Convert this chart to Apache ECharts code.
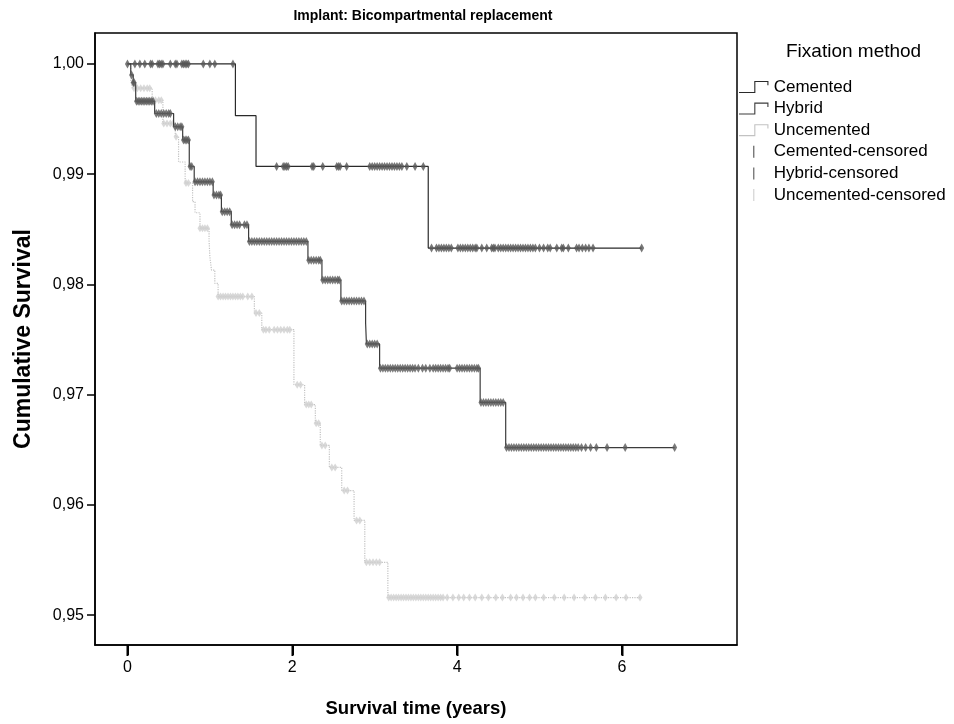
<!DOCTYPE html>
<html><head><meta charset="utf-8">
<script src="https://cdn.jsdelivr.net/npm/echarts@6/dist/echarts.min.js"></script>
<style>html,body{margin:0;padding:0;background:#fff}#c{width:954px;height:724px}</style>
</head><body><div id="c"></div>
<script>
// ---- data ----
const xTicks = [0, 2, 4, 6];
const yTicks = [0.95, 0.96, 0.97, 0.98, 0.99, 1.00];

const cementedSteps = [[0,1.0],[1.31,0.9953],[1.56,0.9907],[3.65,0.9833],[6.24,0.9833]];
const cementedCensor = [0.00,0.09,0.15,0.21,0.28,0.30,0.37,0.39,0.41,0.43,0.52,0.58,0.60,0.66,0.68,0.70,0.72,0.74,0.92,1.00,1.06,1.28,
  1.81,1.89,1.91,1.93,1.95,2.24,2.26,2.37,2.54,2.56,2.58,2.66,2.94,2.97,3.00,3.03,3.06,3.09,3.12,3.15,3.18,3.21,3.24,3.27,3.30,3.33,3.39,3.49,3.59,
  3.69,3.75,3.78,3.81,3.84,3.87,3.90,3.93,4.01,4.04,4.07,4.10,4.13,4.16,4.19,4.22,4.24,4.30,4.36,4.42,4.44,4.46,4.50,4.53,4.56,4.59,4.62,4.65,4.68,
  4.71,4.74,4.77,4.80,4.83,4.86,4.89,4.92,4.95,5.00,5.05,5.10,5.13,5.21,5.27,5.29,5.35,5.45,5.48,5.52,5.56,5.60,5.65,6.24];

const hybridSteps = [[0,1.0],[0.04,0.9990],[0.07,0.9983],[0.10,0.9966],[0.33,0.9955],[0.56,0.9943],[0.67,0.9931],[0.75,0.9907],[0.81,0.9893],
  [1.04,0.9881],[1.14,0.9866],[1.26,0.9854],[1.47,0.9839],[2.19,0.9822],[2.36,0.9804],[2.59,0.9785],[2.89,0.9765],[2.90,0.9746],[3.06,0.9724],
  [4.28,0.9693],[4.59,0.9652],[6.64,0.9652]];
const hybridCensor = [0.05,0.07,0.08,0.11,0.13,0.15,0.17,0.19,0.21,0.23,0.25,0.27,0.29,0.31,0.35,0.38,0.41,0.44,0.47,0.50,0.52,0.58,0.61,0.64,0.66,
  0.68,0.70,0.72,0.74,0.76,0.78,0.82,0.85,0.88,0.91,0.94,0.97,1.00,1.03,1.05,1.08,1.11,1.13,1.15,1.18,1.21,1.24,1.27,1.30,1.33,1.36,1.42,1.45,
  1.48,1.51,1.54,1.57,1.60,1.63,1.66,1.69,1.72,1.75,1.78,1.81,1.84,1.87,1.90,1.93,1.96,1.99,2.02,2.05,2.08,2.11,2.14,2.17,
  2.20,2.23,2.26,2.29,2.32,2.34,2.37,2.40,2.43,2.46,2.49,2.52,2.55,2.57,2.60,2.63,2.66,2.69,2.72,2.75,2.78,2.81,2.84,2.87,
  2.91,2.94,2.97,3.00,3.03,3.07,3.10,3.13,3.16,3.19,3.22,3.25,3.28,3.31,3.34,3.37,3.40,3.43,3.46,3.49,3.53,3.58,3.62,3.67,3.71,3.74,3.77,3.80,
  3.83,3.86,3.89,3.91,4.00,4.03,4.06,4.09,4.12,4.15,4.18,4.21,4.24,4.26,4.29,4.32,4.35,4.38,4.41,4.44,4.47,4.50,4.53,4.56,
  4.60,4.63,4.66,4.69,4.72,4.75,4.78,4.81,4.84,4.87,4.90,4.93,4.96,4.99,5.02,5.05,5.08,5.11,5.14,5.17,5.20,5.23,5.26,5.29,5.32,5.35,5.38,5.41,
  5.44,5.47,5.51,5.56,5.62,5.69,5.82,6.04,6.64];

const uncementedSteps = [[0,1.0],[0.04,0.9985],[0.06,0.9978],[0.30,0.9967],[0.43,0.9946],[0.58,0.9934],[0.62,0.9911],[0.70,0.9892],[0.79,0.9875],
  [0.82,0.9865],[0.88,0.9851],[0.99,0.9840],[1.00,0.9825],[1.02,0.9813],[1.06,0.9801],[1.10,0.9789],[1.54,0.9774],[1.63,0.9759],[2.02,0.9709],
  [2.15,0.9691],[2.28,0.9674],[2.34,0.9654],[2.45,0.9634],[2.60,0.9613],[2.75,0.9586],[2.88,0.9548],[3.16,0.9516],[6.22,0.9516]];
const uncementedCensor = [0.08,0.12,0.16,0.20,0.24,0.27,0.31,0.34,0.38,0.41,0.44,0.48,0.52,0.55,0.59,0.71,0.74,0.88,0.91,0.94,0.97,
  1.10,1.13,1.16,1.19,1.22,1.25,1.28,1.31,1.34,1.37,1.40,1.46,1.51,1.56,1.60,1.65,1.68,1.72,1.78,1.82,1.86,1.90,1.94,1.97,
  2.06,2.10,2.17,2.20,2.23,2.29,2.32,2.36,2.40,2.48,2.52,2.63,2.67,2.78,2.82,2.90,2.94,2.98,3.02,3.06,
  3.17,3.20,3.23,3.26,3.29,3.32,3.35,3.38,3.41,3.44,3.47,3.50,3.53,3.56,3.59,3.62,3.65,3.68,3.71,3.74,3.77,3.80,3.83,3.88,3.95,4.02,4.08,
  4.15,4.22,4.30,4.38,4.47,4.55,4.65,4.72,4.80,4.88,4.95,5.05,5.18,5.30,5.42,5.55,5.68,5.80,5.93,6.05,6.22];

// ---- helpers ----
function survAt(steps, t) {
  let s = steps[0][1];
  for (const p of steps) { if (p[0] <= t + 1e-9) s = p[1]; }
  return s;
}
function censorPts(steps, times) { return times.map(t => [t, survAt(steps, t)]); }

const FONT = '"Liberation Sans", Arial, sans-serif';
const cDark = '#2a2a2a', cMid = '#3c3c3c', cLight = '#c2c2c2';
const stepIcon = 'path://M0,10 L14,10 L14,0 L27,0 L27,4 L26,4 L26,1 L15,1 L15,11 L0,11 Z';
const barIcon = 'path://M0,0 L1.4,0 L1.4,12 L0,12 Z';

const box = {left: 95, top: 33, width: 642, height: 612};
const xMin = -0.394, xMax = 7.397;

const chart = echarts.init(document.getElementById('c'), null, {renderer: 'canvas'});
chart.setOption({
  backgroundColor: '#fff',
  animation: false,
  title: [
    {text: 'Implant: Bicompartmental replacement', left: 418, top: 4, textAlign: 'center',
     textStyle: {fontFamily: FONT, fontSize: 14, fontWeight: 'bold', color: '#000'}},
    {text: 'Fixation method', left: 781, top: 37,
     textStyle: {fontFamily: FONT, fontSize: 19, fontWeight: 'normal', color: '#000'}}
  ],
  legend: {
    orient: 'vertical', left: 734, top: 73, itemWidth: 30, itemHeight: 12, itemGap: 3.6,
    textStyle: {fontFamily: FONT, fontSize: 17, color: '#000', lineHeight: 18},
    data: [
      {name: 'Cemented', icon: stepIcon},
      {name: 'Hybrid', icon: stepIcon},
      {name: 'Uncemented', icon: stepIcon},
      {name: 'Cemented-censored', icon: barIcon},
      {name: 'Hybrid-censored', icon: barIcon},
      {name: 'Uncemented-censored', icon: barIcon}
    ]
  },
  grid: Object.assign({outerBoundsMode: 'none', containLabel: false, show: true, borderColor: '#000', borderWidth: 1.5, backgroundColor: '#fff'}, box),
  xAxis: {
    type: 'value', min: xMin, max: xMax,
    name: 'Survival time (years)', nameLocation: 'middle', nameGap: 54,
    nameTextStyle: {fontFamily: FONT, fontSize: 18.5, fontWeight: 'bold', color: '#000'},
    axisLine: {show: true, onZero: false, lineStyle: {color: '#000', width: 1.5}},
    axisTick: {show: true, customValues: xTicks, length: 10, lineStyle: {color: '#000', width: 2}},
    axisLabel: {customValues: xTicks, fontFamily: FONT, fontSize: 16, color: '#000', margin: 15},
    splitLine: {show: false}
  },
  yAxis: {
    type: 'value', min: 0.9473, max: 1.0028,
    name: 'Cumulative Survival', nameLocation: 'middle', nameGap: 60, nameRotate: 90,
    nameTextStyle: {fontFamily: FONT, fontSize: 23, fontWeight: 'bold', color: '#000'},
    axisLine: {show: true, onZero: false, lineStyle: {color: '#000', width: 1.5}},
    axisTick: {show: true, customValues: yTicks, length: 8, lineStyle: {color: '#000', width: 1.5}},
    axisLabel: {customValues: yTicks, fontFamily: FONT, fontSize: 16, color: '#000', margin: 11,
      formatter: v => v.toFixed(2).replace('.', ',')},
    splitLine: {show: false}
  },
  series: [
    {name: 'Cemented', type: 'line', step: 'end', data: cementedSteps, showSymbol: false, symbol: 'none',
     itemStyle: {color: cDark}, lineStyle: {color: cDark, width: 1.2}, z: 3},
    {name: 'Hybrid', type: 'line', step: 'end', data: hybridSteps, showSymbol: false, symbol: 'none',
     itemStyle: {color: cMid}, lineStyle: {color: cMid, width: 1.2}, z: 3},
    {name: 'Uncemented', type: 'line', step: 'end', data: uncementedSteps, showSymbol: false, symbol: 'none',
     itemStyle: {color: cLight}, lineStyle: {color: cLight, width: 1.2, type: 'dotted'}, z: 2},
    {name: 'Cemented-censored', type: 'scatter', data: censorPts(cementedSteps, cementedCensor),
     symbol: 'diamond', symbolSize: [5, 9], itemStyle: {color: '#555'}, z: 4},
    {name: 'Hybrid-censored', type: 'scatter', data: censorPts(hybridSteps, hybridCensor),
     symbol: 'diamond', symbolSize: [5, 9], itemStyle: {color: '#5a5a5a'}, z: 4},
    {name: 'Uncemented-censored', type: 'scatter', data: censorPts(uncementedSteps, uncementedCensor),
     symbol: 'diamond', symbolSize: [5, 8], itemStyle: {color: '#cfcfcf'}, z: 2}
  ]
});

// x-axis tick marks placed through the axis scale (guarantees they are visible below the box)
const tickBase = box.top + box.height;
chart.setOption({
  graphic: xTicks.map(v => {
    const px = Math.round(chart.convertToPixel({xAxisIndex: 0}, v)) + 0.5;
    return {type: 'line', z: 100, silent: true,
      shape: {x1: px, y1: tickBase, x2: px, y2: tickBase + 11},
      style: {stroke: '#000', lineWidth: 2}};
  })
});
</script></body></html>
